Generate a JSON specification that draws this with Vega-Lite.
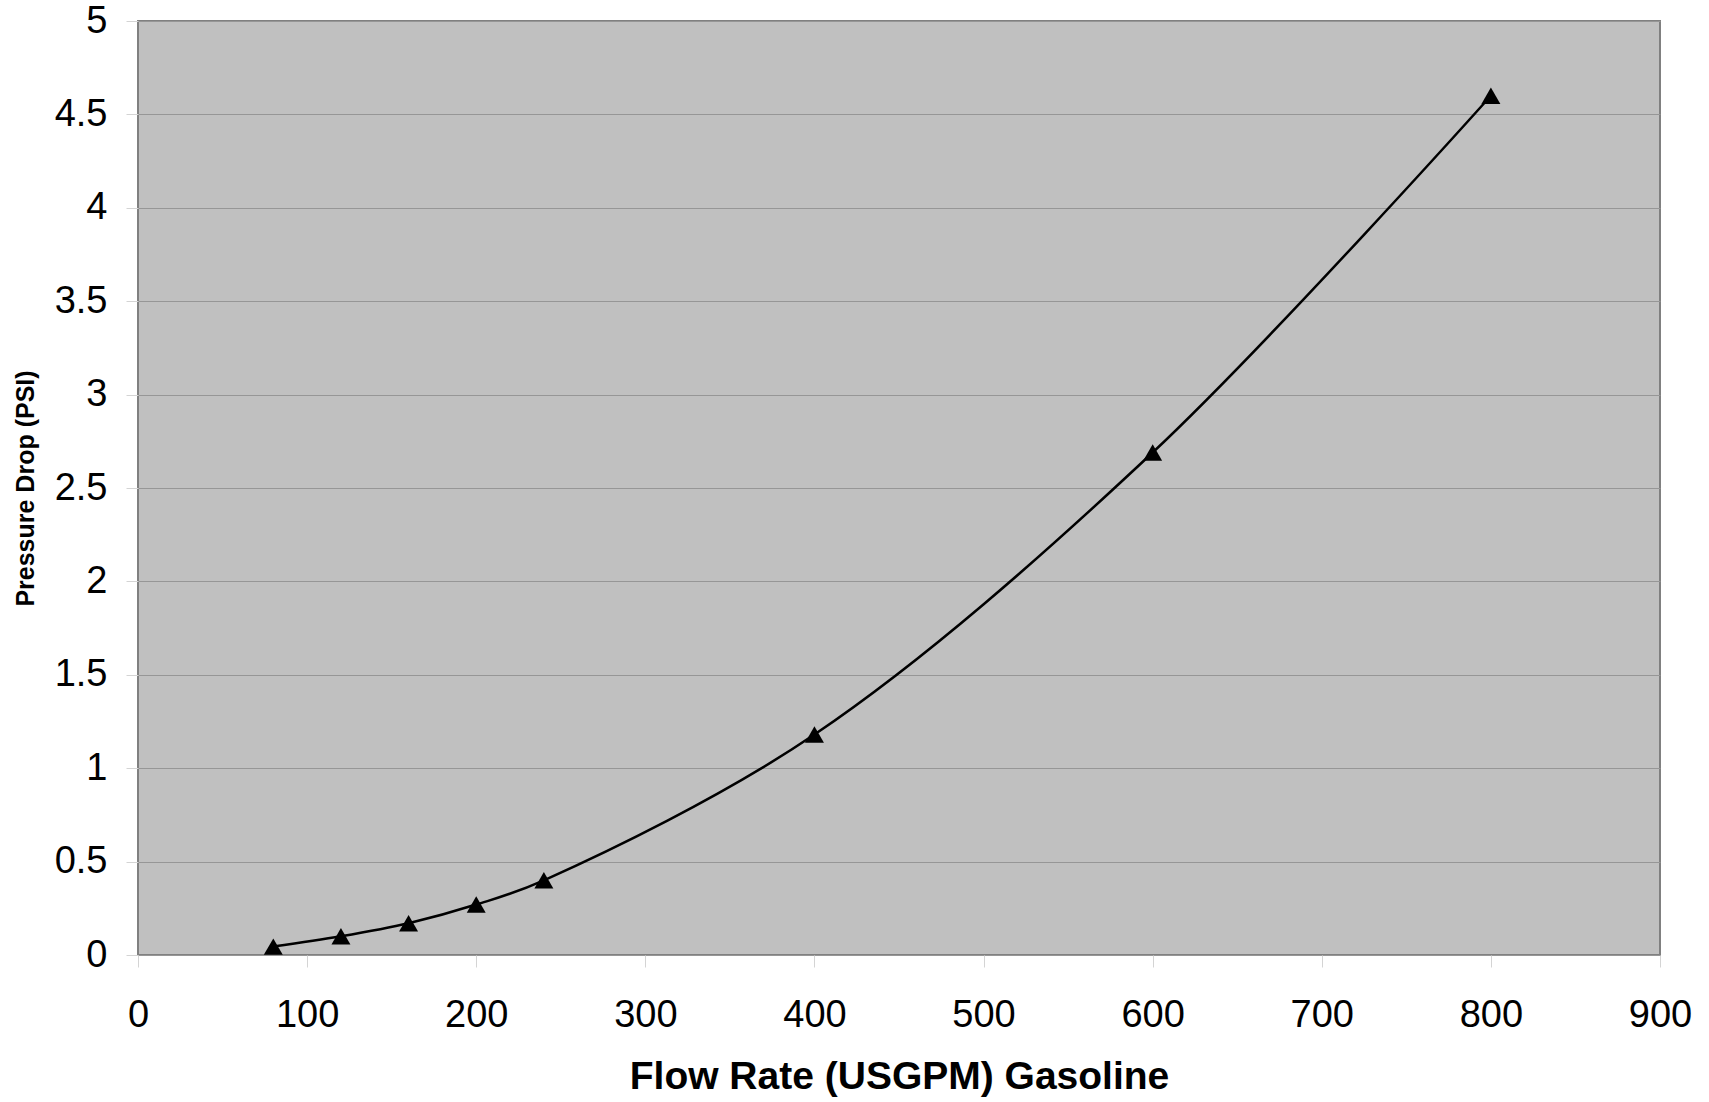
{
  "$schema": "https://vega.github.io/schema/vega-lite/v6.json",
  "width": 1522,
  "height": 934,
  "autosize": {"type": "none"},
  "padding": {"left": 138, "top": 21, "right": 49, "bottom": 147},
  "background": "white",
  "config": {
    "view": {"fill": "#c0c0c0", "stroke": "#808080", "strokeWidth": 2},
    "font": "Liberation Sans"
  },
  "data": {
    "values": [
      {"flow": 80, "drop": 0.045},
      {"flow": 120, "drop": 0.10},
      {"flow": 160, "drop": 0.17},
      {"flow": 200, "drop": 0.27},
      {"flow": 240, "drop": 0.40},
      {"flow": 400, "drop": 1.18},
      {"flow": 600, "drop": 2.69},
      {"flow": 800, "drop": 4.60}
    ]
  },
  "encoding": {
    "x": {
      "field": "flow",
      "type": "quantitative",
      "scale": {"domain": [0, 900], "nice": false, "zero": false},
      "axis": {
        "title": "Flow Rate (USGPM) Gasoline",
        "values": [0, 100, 200, 300, 400, 500, 600, 700, 800, 900],
        "grid": false,
        "domain": false,
        "tickSize": 12,
        "tickColor": "#d4d4d4",
        "tickWidth": 1,
        "labelFont": "Liberation Sans",
        "labelFontSize": 38,
        "labelColor": "black",
        "labelPadding": 29,
        "labelFlush": false,
        "labelOverlap": false,
        "titleFont": "Liberation Sans",
        "titleFontSize": 39,
        "titleFontWeight": "bold",
        "titleColor": "black",
        "titleBaseline": "alphabetic",
        "titleY": 133
      }
    },
    "y": {
      "field": "drop",
      "type": "quantitative",
      "scale": {"domain": [0, 5], "nice": false},
      "axis": {
        "title": "Pressure Drop (PSI)",
        "values": [0, 0.5, 1, 1.5, 2, 2.5, 3, 3.5, 4, 4.5, 5],
        "format": "~g",
        "grid": true,
        "gridColor": "#969696",
        "gridWidth": 1,
        "domain": false,
        "tickSize": 12,
        "tickColor": "#d4d4d4",
        "tickWidth": 1,
        "labelFont": "Liberation Sans",
        "labelFontSize": 38,
        "labelColor": "black",
        "labelPadding": 19,
        "labelFlush": false,
        "labelOverlap": false,
        "titleFont": "Liberation Sans",
        "titleFontSize": 25,
        "titleFontWeight": "bold",
        "titleColor": "black",
        "titleBaseline": "alphabetic",
        "titleX": -105,
        "titleAngle": 270
      }
    }
  },
  "layer": [
    {
      "mark": {"type": "line", "interpolate": "catmull-rom", "color": "black", "strokeWidth": 2.5}
    },
    {
      "mark": {"type": "point", "shape": "triangle-up", "filled": true, "color": "black", "opacity": 1, "size": 360}
    }
  ]
}
